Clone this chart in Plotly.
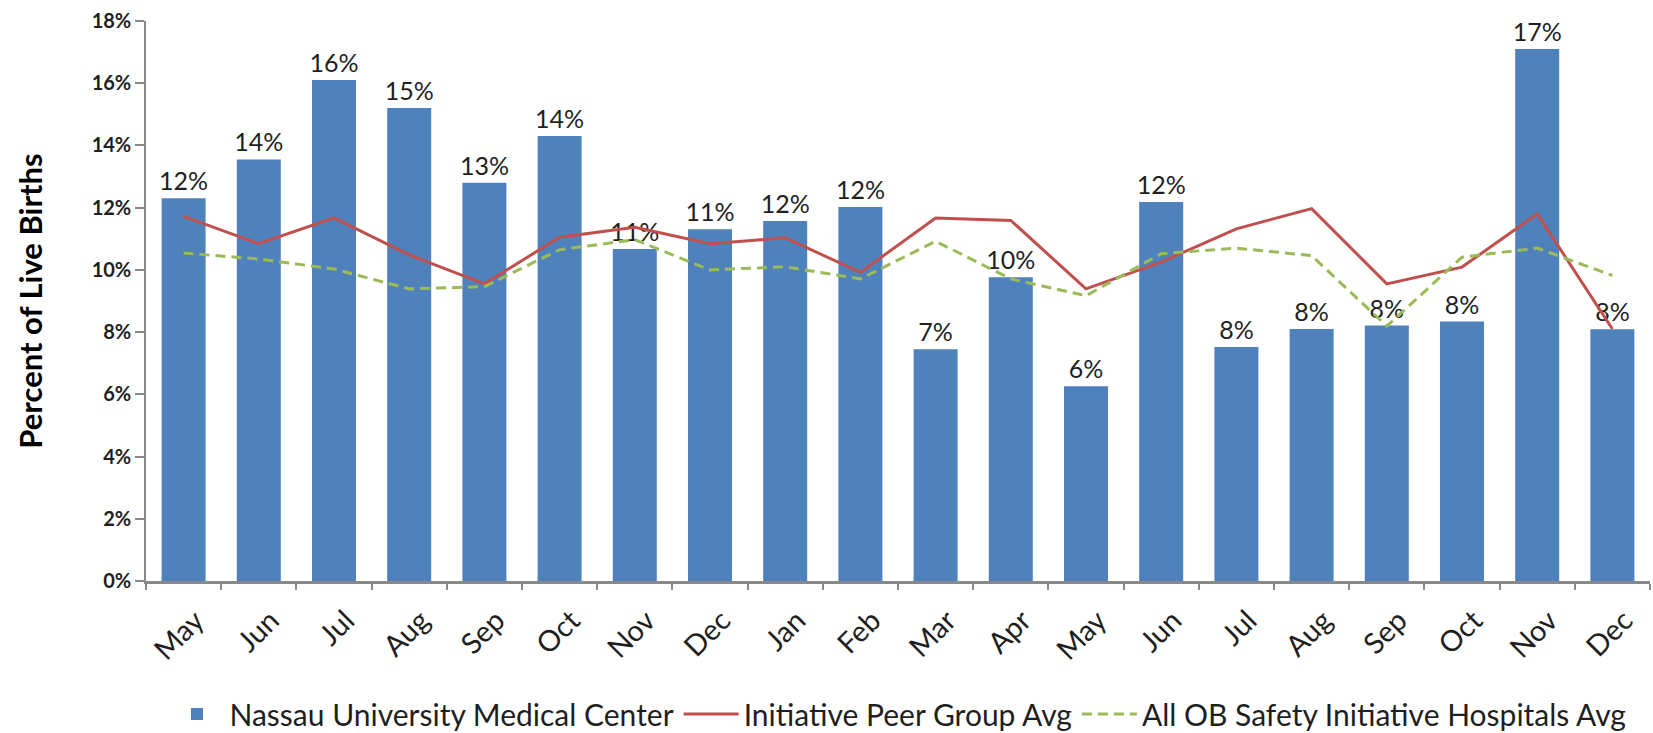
import plotly.graph_objects as go

months = ["May", "Jun", "Jul", "Aug", "Sep", "Oct", "Nov", "Dec", "Jan", "Feb",
          "Mar", "Apr", "May", "Jun", "Jul", "Aug", "Sep", "Oct", "Nov", "Dec"]
nassau = [12.3, 13.55, 16.1, 15.2, 12.8, 14.3, 10.67, 11.31, 11.57, 12.02,
          7.45, 9.76, 6.26, 12.18, 7.52, 8.1, 8.21, 8.34, 17.1, 8.09]
peer = [11.72, 10.84, 11.67, 10.48, 9.55, 11.05, 11.37, 10.84, 11.03, 9.92,
        11.67, 11.59, 9.39, 10.25, 11.32, 11.97, 9.55, 10.09, 11.8, 8.1]
all_ob = [10.54, 10.35, 10.03, 9.39, 9.46, 10.65, 10.97, 10.0, 10.1, 9.71,
          10.92, 9.71, 9.17, 10.52, 10.7, 10.46, 8.19, 10.41, 10.7, 9.82]
y_ticks = list(range(0, 19, 2))
y_tick_text = [f"<b>{v}%</b>" for v in y_ticks]

x = list(range(len(months)))
font_family = "Lato, 'Open Sans', sans-serif"
text_color = "#1f1f1f"
axis_gray = "#898989"

fig = go.Figure()
fig.add_trace(go.Bar(
    x=x, y=nassau, name="Nassau University Medical Center",
    marker=dict(color="#4F81BD", line=dict(width=0)),
    text=nassau, texttemplate="%{y:.0f}%", textposition="outside",
    constraintext="none",
    textfont=dict(size=25, color=text_color, family=font_family),
    cliponaxis=False,
))
fig.add_trace(go.Scatter(
    x=x, y=peer, name="Initiative Peer Group Avg", mode="lines",
    line=dict(color="#C0504D", width=3),
))
fig.add_trace(go.Scatter(
    x=x, y=all_ob, name="All OB Safety Initiative Hospitals Avg", mode="lines",
    line=dict(color="#9BBB59", width=3, dash="10px,6px"),
))

fig.update_layout(
    width=1653, height=733,
    margin=dict(l=146, r=3, t=21, b=152, autoexpand=False),
    paper_bgcolor="white", plot_bgcolor="white",
    bargap=0.415,
    font=dict(family=font_family, color=text_color),
    showlegend=True,
    legend=dict(orientation="h", x=0.5, xanchor="center",
                yref="container", y=0.026, yanchor="middle",
                font=dict(size=30, color=text_color), traceorder="normal",
                itemwidth=55, tracegroupgap=0),
    xaxis=dict(
        tickmode="array", tickvals=x, ticktext=months, tickangle=-45,
        range=[-0.5, len(months) - 0.5], automargin=False,
        showline=True, linecolor=axis_gray, linewidth=3,
        ticks="", showgrid=False, zeroline=False,
        ticklabelshift=12, ticklabelstandoff=8,
        minor=dict(tick0=-0.5, dtick=1, ticks="outside", ticklen=6,
                   tickcolor=axis_gray, tickwidth=1.5, showgrid=False),
        tickfont=dict(size=29, color=text_color),
    ),
    yaxis=dict(
        range=[0, 18], tickmode="array", tickvals=y_ticks, ticktext=y_tick_text,
        automargin=False,
        showline=True, linecolor=axis_gray, linewidth=1.5,
        ticks="outside", ticklen=9, tickcolor=axis_gray, tickwidth=1.5,
        showgrid=False, zeroline=False,
        tickfont=dict(size=20, color=text_color),
        title=dict(text="<b>Percent of Live Births</b>", font=dict(size=31, color="#000000"), standoff=40),
    ),
)

fig.write_html("out.html", config={"displayModeBar": False},
               post_script="document.body.style.margin='0';document.body.style.overflow='hidden';")
